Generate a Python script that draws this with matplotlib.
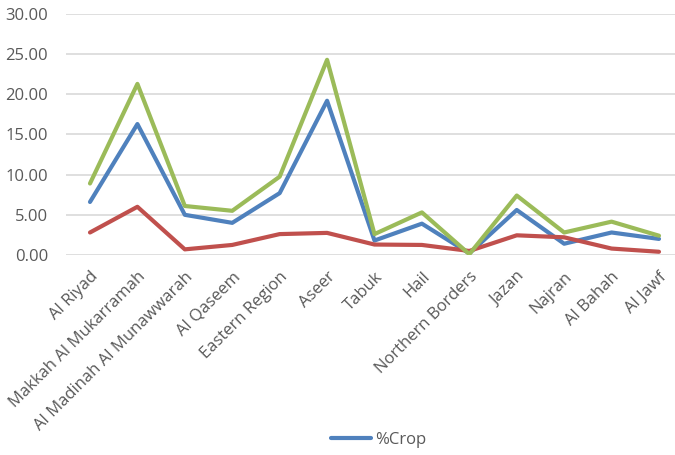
import matplotlib
matplotlib.use("Agg")
import matplotlib.pyplot as plt

regions = ["Al Riyad", "Makkah Al Mukarramah", "Al Madinah Al Munawwarah",
           "Al Qaseem", "Eastern Region", "Aseer", "Tabuk", "Hail",
           "Northern Borders", "Jazan", "Najran", "Al Bahah", "Al Jawf"]
crop = [6.6, 16.3, 5.0, 4.0, 7.7, 19.2, 1.8, 3.9, 0.2, 5.6, 1.4, 2.8, 2.0]
red_series = [2.8, 6.0, 0.7, 1.25, 2.6, 2.75, 1.3, 1.25, 0.5, 2.45, 2.2, 0.8, 0.4]
green_series = [8.9, 21.3, 6.1, 5.5, 9.75, 24.3, 2.6, 5.3, 0.1, 7.4, 2.8, 4.15, 2.4]
yticks = [0, 5, 10, 15, 20, 25, 30]

plt.rcParams['font.family'] = ['Open Sans', 'DejaVu Sans']
fig = plt.figure(figsize=(6.75, 4.55), dpi=100)
ax = fig.add_axes([0.0982, 0.4396, 0.9132, 0.5296])

x = range(len(regions))
lw = 3.0
l1, = ax.plot(x, crop, color="#4F81BD", lw=lw, solid_capstyle='round', solid_joinstyle='round', zorder=3)
ax.plot(x, red_series, color="#C0504D", lw=lw, solid_capstyle='round', solid_joinstyle='round', zorder=3)
ax.plot(x, green_series, color="#9BBB59", lw=lw, solid_capstyle='round', solid_joinstyle='round', zorder=4)

ax.set_xlim(-0.5, len(regions) - 0.5)
ax.set_ylim(0, 30)
ax.set_yticks(yticks)
ax.set_yticklabels([f"{v:.2f}" for v in yticks])
ax.set_xticks(list(x))
ax.set_xticklabels(regions, rotation=45, ha='right', rotation_mode='anchor')
ax.tick_params(axis='both', length=0, labelsize=12, labelcolor="#595959")
ax.tick_params(axis='y', pad=13)
ax.tick_params(axis='x', pad=10)
ax.grid(axis='y', color="#D9D9D9", lw=1.2)
ax.set_axisbelow(True)
for s in ax.spines.values():
    s.set_visible(False)

fig.legend([l1], ["%Crop"], loc='center', bbox_to_anchor=(0.561, 0.033),
           frameon=False, fontsize=12, labelcolor="#595959",
           handlelength=2.4, handletextpad=0.2)

fig.savefig("out.png", dpi=100)
